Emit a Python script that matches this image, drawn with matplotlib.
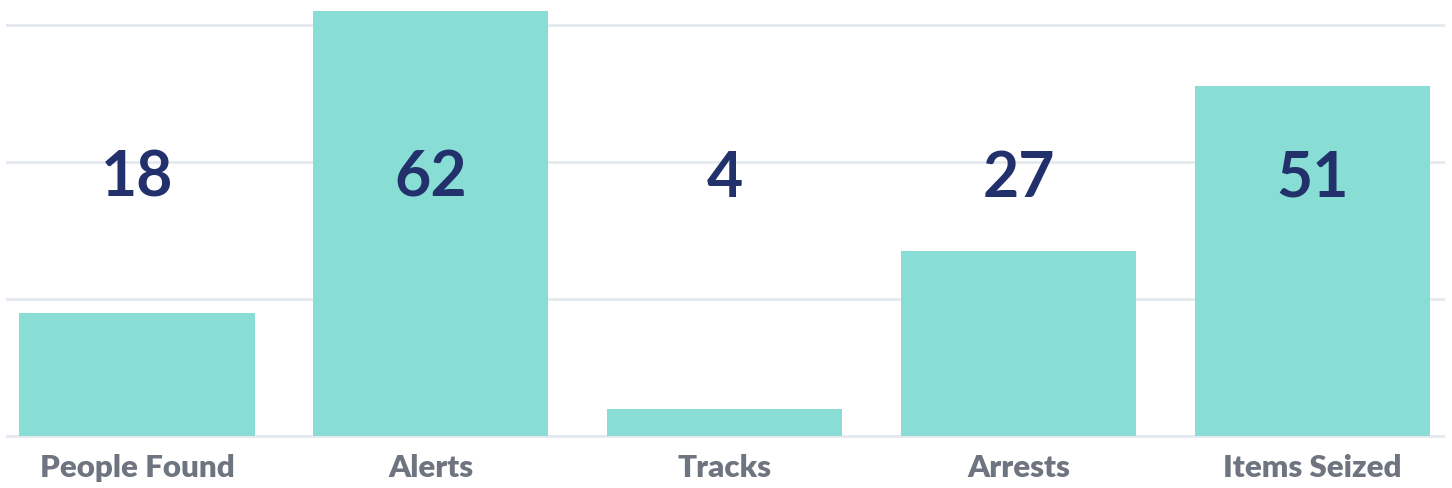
import matplotlib.pyplot as plt

categories = ['People Found', 'Alerts', 'Tracks', 'Arrests', 'Items Seized']
values = [18, 62, 4, 27, 51]
grid_ticks = [0, 20, 40, 60]

bar_color = '#88ddd4'
num_color = '#22316b'
label_color = '#6f7580'
grid_color = '#e3e9ef'

fig = plt.figure(figsize=(14.52, 4.89), dpi=100)
ax = fig.add_axes([0.0041, 0.1022, 0.991, 0.8978])

x = range(len(categories))
ax.bar(x, values, width=0.8, color=bar_color, zorder=2)

# big numbers, all at the same height
for i, v in enumerate(values):
    ax.text(i, 37.7, str(v), ha='center', va='center', fontsize=45,
            fontweight='bold', family=['Lato', 'DejaVu Sans'], color=num_color, zorder=3)

ax.set_xlim(-0.446, 4.45)
ax.set_ylim(-0.3, 63.75)
ax.set_yticks(grid_ticks)
ax.yaxis.grid(True, color=grid_color, linewidth=2, zorder=0)
ax.set_axisbelow(True)
ax.tick_params(axis='y', left=False, labelleft=False)
ax.set_xticks(list(x))
ax.set_xticklabels(categories, fontsize=22.5, fontweight='heavy',
                   family=['Lato', 'DejaVu Sans'], color=label_color)
ax.tick_params(axis='x', bottom=False, pad=7)
for s in ax.spines.values():
    s.set_visible(False)

fig.savefig('out.png', dpi=100)
